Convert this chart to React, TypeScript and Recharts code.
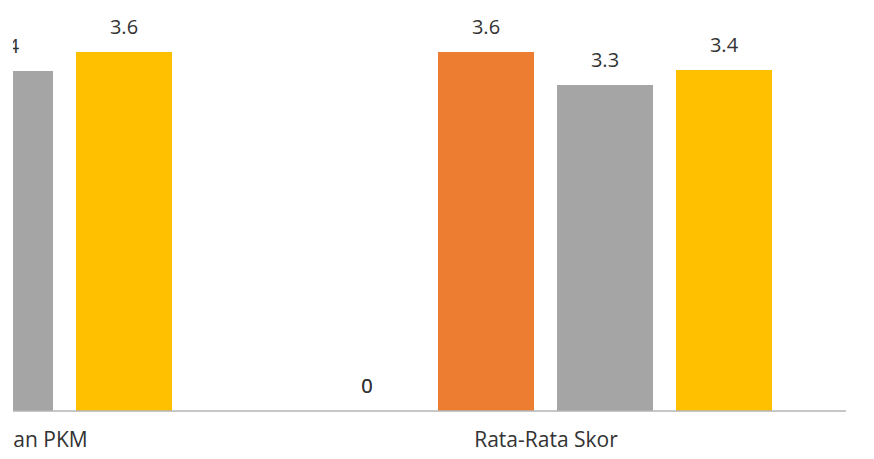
import { BarChart, Bar, XAxis, YAxis, LabelList, Rectangle } from "recharts";

// the reference is a crop of a wider chart: only the tail of the first group is visible
const categories = ["Skor Kepuasan Layanan PKM", "Rata-Rata Skor"];
const seriesA = [0, 0];
const seriesB = [3.5, 3.59];
const seriesC = [3.4, 3.26];
const seriesD = [3.59, 3.41];

const series = [
	{ key: "a", name: "Seri 1", color: "#4472C4", values: seriesA },
	{ key: "b", name: "Seri 2", color: "#ED7D31", values: seriesB },
	{ key: "c", name: "Seri 3", color: "#A5A5A5", values: seriesC },
	{ key: "d", name: "Seri 4", color: "#FFC000", values: seriesD },
];

const data = categories.map((c, i) => {
	const row: Record<string, string | number> = { name: c };
	series.forEach((s) => (row[s.key] = s.values[i]));
	return row;
});

const font = "'Open Sans', sans-serif";
const textColor = "#333333";
const fmt = (v: number) => v.toFixed(1).replace(/\.0$/, "");

// zero-height bars lose their LabelList, so the shape draws the value itself
function BarWithValue(props: any) {
	const { x, y, width, value } = props;
	const v = Array.isArray(value) ? value[1] - value[0] : value;
	return (
		<g>
			<Rectangle {...props} />
			{v === 0 && (
				<text x={x + width / 2} y={y - 18} textAnchor="middle" fill={textColor} fontSize={20} fontFamily={font}>
					{fmt(v)}
				</text>
			)}
		</g>
	);
}

export default function App() {
	return (
		<div style={{ width: 861, height: 451, overflow: "hidden", marginLeft: 5, position: "relative", background: "#fff" }}>
			<div style={{ position: "absolute", left: -367, top: 0 }}>
				<BarChart
					width={1212}
					height={451}
					data={data}
					margin={{ top: 3, right: 12, bottom: 8, left: 0 }}
					barCategoryGap={73}
					barGap={23}
					style={{ fontFamily: font }}
				>
					<XAxis
						dataKey="name"
						interval={0}
						tickLine={false}
						tickMargin={15}
						height={40}
						axisLine={{ stroke: "#b4b4b4", strokeWidth: 1.5 }}
						tick={{ fill: textColor, fontSize: 21, fontFamily: font }}
					/>
					<YAxis hide domain={[0, 4]} />
					{series.map((s) => (
						<Bar key={s.key} dataKey={s.key} name={s.name} fill={s.color} isAnimationActive={false} shape={BarWithValue}>
							<LabelList
								dataKey={s.key}
								position="top"
								offset={18}
								formatter={fmt}
								style={{ fill: textColor, fontSize: 20, fontFamily: font }}
							/>
						</Bar>
					))}
				</BarChart>
			</div>
		</div>
	);
}
